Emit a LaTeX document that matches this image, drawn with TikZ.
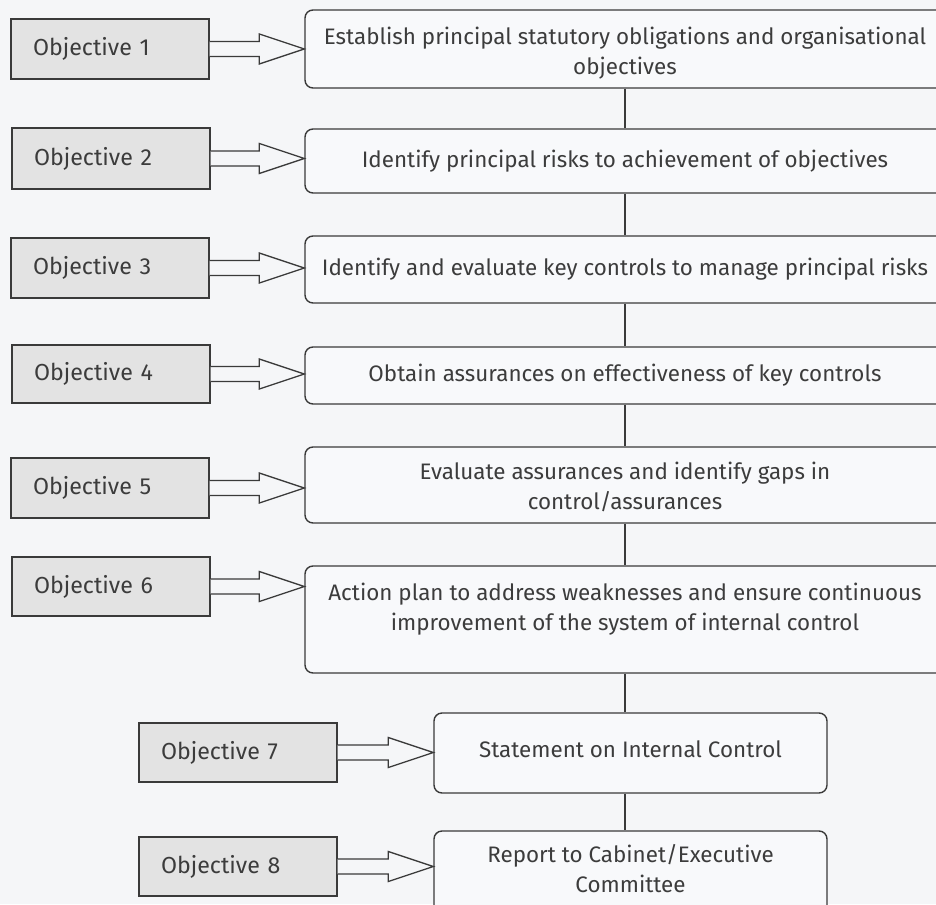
\documentclass[tikz,border=0pt]{standalone}
\usepackage{fontspec}
\setmainfont{Fira Sans}
\usetikzlibrary{calc}
\definecolor{bg}{HTML}{F5F6F8}
\definecolor{boxfill}{HTML}{F8F9FB}
\definecolor{objfill}{HTML}{E3E3E3}
\definecolor{edge}{HTML}{3A3A3A}
\definecolor{txt}{HTML}{3C3C3C}
\begin{document}
\begin{tikzpicture}[x=1pt,y=-1pt,
  every node/.style={text=txt},
  stage/.style={draw=edge, line width=1.4pt, rounded corners=8pt, fill=boxfill,
    minimum width=640pt, inner sep=0pt, align=center,
    font=\fontsize{22.4}{30}\selectfont},
  stagesmall/.style={stage, minimum width=393pt},
  stagetext/.style={inner sep=0pt, align=center, font=\fontsize{22.4}{30}\selectfont},
  obj/.style={draw=edge, line width=1.4pt, fill=objfill, minimum height=60pt,
    text width=154pt, inner xsep=22pt, inner ysep=0pt, align=left,
    font=\fontsize{23.2}{26}\selectfont},
  link/.style={draw=edge, line width=1.3pt},
  blockarrow/.style={draw=edge, line width=1.3pt, fill=bg, line join=miter}
]
\fill[bg] (0,0) rectangle (936,904);
\clip (0,0) rectangle (936,904);

% stage boxes
\node[stage, minimum height=78pt]  (r1) at (625,49)    {};
\node[stagetext] (t1) at (625,53) {Establish principal statutory obligations and organisational\\objectives};
\node[stage, minimum height=64pt]  (r2) at (625,161)   {Identify principal risks to achievement of objectives};
\node[stage, minimum height=67pt]  (r3) at (625,269.5) {Identify and evaluate key controls to manage principal risks};
\node[stage, minimum height=57pt]  (r4) at (625,375.5) {Obtain assurances on effectiveness of key controls};
\node[stage, minimum height=76pt]  (r5) at (625,485)   {};
\node[stagetext] (t5) at (625,487) {Evaluate assurances and identify gaps in\\control/assurances};
\node[stage, minimum height=107pt] (r6) at (625,619.5) {};
\node[stagetext] (t6) at (625,609) {Action plan to address weaknesses and ensure continuous\\improvement of the system of internal control};
\node[stagesmall, minimum height=80pt] (r7) at (630.5,753) {};
\node[stagetext] (t7) at (630.5,749) {Statement on Internal Control};
\node[stagesmall, minimum height=84pt] (r8) at (630.5,873) {};
\node[stagetext] (t8) at (630.5,869) {Report to Cabinet/Executive\\Committee};

% objective boxes
\node[obj, minimum height=60pt] (l1) at (110,49)    {Objective 1};
\node[obj, minimum height=61pt] (l2) at (111,158.5) {Objective 2};
\node[obj, minimum height=60pt] (l3) at (110,268)   {Objective 3};
\node[obj, minimum height=58pt] (l4) at (111,374)   {Objective 4};
\node[obj, minimum height=60pt] (l5) at (110,488)   {Objective 5};
\node[obj, minimum height=59pt] (l6) at (111,586.5) {Objective 6};
\node[obj, minimum height=59pt] (l7) at (238,752.5) {Objective 7};
\node[obj, minimum height=59pt] (l8) at (238,866.5) {Objective 8};

% vertical connectors
\foreach \i/\j in {1/2,2/3,3/4,4/5,5/6}
  \draw[link] (r\i.south) -- (r\j.north);
\draw[link] (r6.south) -- (r6.south |- r7.north);
\draw[link] (r6.south |- r7.south) -- (r6.south |- r8.north);

% block arrows
\foreach \i in {1,...,8}{
  \coordinate (tip\i) at (l\i.east -| r\i.west);
  \draw[blockarrow] ([yshift=7.5pt]l\i.east)
    -- ([xshift=-45pt,yshift=7.5pt]tip\i)
    -- ([xshift=-45pt,yshift=15pt]tip\i)
    -- (tip\i)
    -- ([xshift=-45pt,yshift=-15pt]tip\i)
    -- ([xshift=-45pt,yshift=-7.5pt]tip\i)
    -- ([yshift=-7.5pt]l\i.east);
}
\end{tikzpicture}
\end{document}
